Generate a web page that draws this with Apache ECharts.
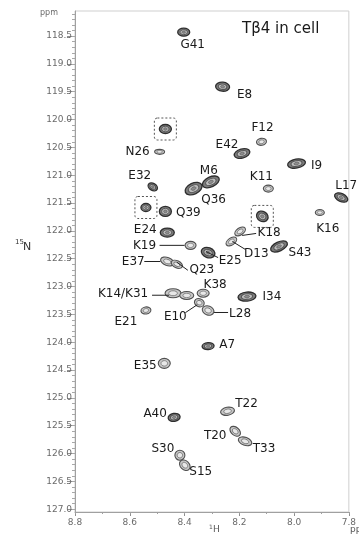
<!DOCTYPE html>
<html>
<head>
<meta charset="utf-8">
<script src="https://cdn.jsdelivr.net/npm/echarts@6/dist/echarts.min.js"></script>
<style>
  html, body { margin: 0; padding: 0; background: #fff; }
  #chart { width: 359px; height: 537px; }
</style>
</head>
<body>
<div id="chart"></div>
<script>
// peak assignments, 1H / 15N shifts in ppm ('' = unassigned peak)
const peakNames = ['G41', 'E8', 'F12', 'E42', 'I9', 'N26', '', 'E32', 'M6', 'Q36',
  '', 'Q39', 'K11', 'L17', 'K16', '', 'E24', 'K18', 'D13', 'S43',
  'K19', 'E25', 'E37', 'Q23', 'K14/K31', '', 'K38', 'E10', 'L28', 'I34',
  'E21', 'A7', 'E35', 'A40', 'T22', 'T20', 'T33', 'S30', 'S15'];
const shiftH = [8.403, 8.261, 8.119, 8.190, 7.991, 8.491, 8.470, 8.516, 8.304, 8.367,
  8.541, 8.470, 8.094, 7.828, 7.906, 8.116, 8.463, 8.197, 8.229, 8.055,
  8.378, 8.314, 8.463, 8.428, 8.442, 8.392, 8.332, 8.346, 8.314, 8.172,
  8.541, 8.314, 8.474, 8.438, 8.243, 8.215, 8.179, 8.417, 8.399];
const shiftN = [118.43, 119.41, 120.40, 120.61, 120.79, 120.58, 120.17, 121.21, 121.12, 121.24,
  121.58, 121.65, 121.24, 121.40, 121.67, 121.74, 122.03, 122.01, 122.19, 122.28,
  122.26, 122.39, 122.55, 122.60, 123.12, 123.16, 123.12, 123.29, 123.43, 123.18,
  123.43, 124.07, 124.38, 125.35, 125.24, 125.60, 125.78, 126.03, 126.21];

const xTicks = [8.8, 8.6, 8.4, 8.2, 8.0, 7.8];
const yTicks = [118.5, 119.0, 119.5, 120.0, 120.5, 121.0, 121.5, 122.0, 122.5, 123.0,
  123.5, 124.0, 124.5, 125.0, 125.5, 126.0, 126.5, 127.0];

// contour look per peak: [rx, ry, tilt deg, weak?]
const peakShape = [
  [6, 4, 0, 0], [7, 4.5, -5, 0], [5, 3.5, 10, 1], [8, 4.5, 15, 0], [9, 4.5, 10, 0],
  [5, 2.5, 0, 1], [6, 4.5, 0, 0], [5, 3.5, -30, 0], [9, 5, 25, 0], [9, 5.5, 25, 0],
  [5, 4, 0, 0], [6, 5, 0, 0], [5, 3.5, 0, 1], [7, 4, -25, 0], [4.5, 3, 0, 1],
  [6, 5, -30, 0], [7, 4.5, 0, 0], [6, 3.5, 35, 1], [6, 3.5, 35, 1], [9, 4.5, 25, 0],
  [5.5, 4, 0, 1], [7, 5, -20, 0], [7, 4, -20, 1], [6, 3.5, -25, 1], [8, 4.5, 0, 1],
  [7, 4, 0, 1], [6, 4, 0, 1], [5, 4, -20, 1], [6, 4.5, -20, 1], [9, 4.5, 5, 0],
  [5, 3.5, 10, 1], [6, 3.5, 5, 0], [6, 5, 0, 1], [6, 4, 10, 0], [7, 4, 10, 1],
  [6, 4, -40, 1], [7, 4, -20, 1], [5, 5, -45, 1], [6, 4.5, -45, 1]];
const boxed = [6, 10, 15];

// label centre offset from peak, px
const labelAt = {
  G41: [9, 13], E8: [22, 8], F12: [1, -14], E42: [-15, -9], I9: [20, 2],
  N26: [-22, 0], E32: [-13, -11], M6: [-2, -11], Q36: [20, 11], Q39: [23, 1],
  K11: [-7, -12], L17: [5, -12], K16: [8, 16], E24: [-22, -3], K18: [29, 1],
  D13: [25, 12], S43: [21, 6], K19: [-46, 1], E25: [22, 8], E37: [-34, 0],
  Q23: [25, 6], 'K14/K31': [-50, 1], K38: [12, -8], E10: [-24, 14], L28: [32, 3],
  I34: [25, 0], E21: [-20, 11], A7: [19, -1], E35: [-19, 3], A40: [-19, -3],
  T22: [19, -7], T20: [-20, 5], T33: [19, 8], S30: [-17, -6], S15: [16, 7]
};
// leader lines [x1, y1, x2, y2] relative to peak
const leaders = {
  K19: [-31, 0, -6, 0], E37: [-23, 0, -7, 0], Q23: [0, -2, 11, 6], E25: [-2, -1, 10, 5],
  K18: [2, 4, 16, 2], D13: [1, 0, 14, 8], 'K14/K31': [-21, 2, -4, 2], E10: [-14, 10, -2, 2],
  L28: [6, 2, 20, 2]
};

const data = peakNames.map((n, i) => [shiftH[i], shiftN[i]]);

const minorY = [];
for (let v = 1181; v <= 1270; v++) minorY.push(v / 10);
const minorX = [];
for (let v = 78; v <= 88; v++) minorX.push(v / 10);

const FONT = 'DejaVu Sans';

function renderPeak(params, api) {
  const i = params.dataIndex;
  const p = api.coord([api.value(0), api.value(1)]);
  const [rx, ry, tilt, weak] = peakShape[i];
  const rot = tilt * Math.PI / 180;
  const kids = [];
  if (boxed.indexOf(i) >= 0) {
    kids.push({
      type: 'rect', shape: { x: p[0] - 11, y: p[1] - 11, width: 22, height: 22, r: 3 },
      style: { fill: 'none', stroke: '#555', lineWidth: 1, lineDash: [2, 2] }
    });
  }
  const rings = weak
    ? [[1, '#c8c8c8', '#505050', 1.1], [0.55, '#e8e8e8', '#7a7a7a', 0.9]]
    : [[1, '#7c7c7c', '#2e2e2e', 1.3], [0.62, '#bdbdbd', '#555', 1], [0.28, '#8e8e8e', '#666', 0.8]];
  rings.forEach(([k, fill, stroke, lw]) => {
    kids.push({
      type: 'ellipse', x: p[0], y: p[1], rotation: rot,
      shape: { cx: 0, cy: 0, rx: rx * k, ry: ry * k },
      style: { fill: fill, stroke: stroke, lineWidth: lw }
    });
  });
  const name = peakNames[i];
  if (name) {
    const off = labelAt[name] || [0, -12];
    kids.push({
      type: 'text', x: p[0] + off[0], y: p[1] + off[1],
      style: {
        text: name, font: '12px "' + FONT + '"', fill: '#1a1a1a',
        align: 'center', verticalAlign: 'middle',
        textAlign: 'center', textVerticalAlign: 'middle'
      }
    });
    const ld = leaders[name];
    if (ld) {
      kids.push({
        type: 'line',
        shape: { x1: p[0] + ld[0], y1: p[1] + ld[1], x2: p[0] + ld[2], y2: p[1] + ld[3] },
        style: { stroke: '#222', lineWidth: 1 }
      });
    }
  }
  return { type: 'group', children: kids };
}

const chart = echarts.init(document.getElementById('chart'), null, { renderer: 'canvas' });

const axisLabelStyle = { fontSize: 9, color: '#6a6a6a', fontFamily: FONT };

chart.setOption({
  backgroundColor: '#fff',
  animation: false,
  grid: { left: 75, right: 3, top: 11, bottom: 25, show: true, borderColor: '#cfcfcf', borderWidth: 1 },
  xAxis: [{
    type: 'value', min: 7.8, max: 8.8, inverse: true, position: 'bottom',
    axisLine: { onZero: false, lineStyle: { color: '#a0a0a0' } },
    axisTick: { customValues: xTicks, length: 4, lineStyle: { color: '#909090' } },
    axisLabel: Object.assign({ customValues: xTicks, margin: 6, formatter: v => v.toFixed(1) }, axisLabelStyle),
    splitLine: { show: false }
  }, {
    type: 'value', min: 7.8, max: 8.8, inverse: true, position: 'bottom',
    axisLine: { show: false, onZero: false },
    axisTick: { customValues: minorX, length: 2, lineStyle: { color: '#a0a0a0' } },
    axisLabel: { show: false }, splitLine: { show: false }
  }],
  yAxis: [{
    type: 'value', min: 118.05, max: 127.05, inverse: true, position: 'left',
    axisLine: { show: true, onZero: false, lineStyle: { color: '#a0a0a0' } },
    axisTick: { show: true, customValues: yTicks, length: 8, lineStyle: { color: '#909090' } },
    axisLabel: Object.assign({ customValues: yTicks, margin: 3, formatter: v => v.toFixed(1) }, axisLabelStyle),
    splitLine: { show: false }
  }, {
    type: 'value', min: 118.05, max: 127.05, inverse: true, position: 'left',
    axisLine: { show: false, onZero: false },
    axisTick: { show: true, customValues: minorY, length: 3, lineStyle: { color: '#a8a8a8' } },
    axisLabel: { show: false }, splitLine: { show: false }
  }],
  graphic: [
    { type: 'text', left: 40, top: 9, style: { text: 'ppm', font: '8px "' + FONT + '"', fill: '#6a6a6a' } },
    { type: 'text', x: 242, y: 22, style: { text: 'Tβ4 in cell', font: '15px "' + FONT + '"', fill: '#1a1a1a' } },
    { type: 'text', x: 15, y: 239, style: { text: '15', font: '7px "' + FONT + '"', fill: '#333' } },
    { type: 'text', x: 23, y: 242, style: { text: 'N', font: '11px "' + FONT + '"', fill: '#333' } },
    { type: 'text', x: 209, y: 524, style: { text: '1', font: '6px "' + FONT + '"', fill: '#555' } },
    { type: 'text', x: 213, y: 525, style: { text: 'H', font: '9px "' + FONT + '"', fill: '#555' } },
    { type: 'text', x: 350, y: 525, style: { text: 'ppm', font: '9px "' + FONT + '"', fill: '#555' } }
  ],
  series: [{
    type: 'custom',
    coordinateSystem: 'cartesian2d',
    xAxisIndex: 0, yAxisIndex: 0,
    clip: false,
    renderItem: renderPeak,
    data: data
  }]
});
</script>
</body>
</html>
